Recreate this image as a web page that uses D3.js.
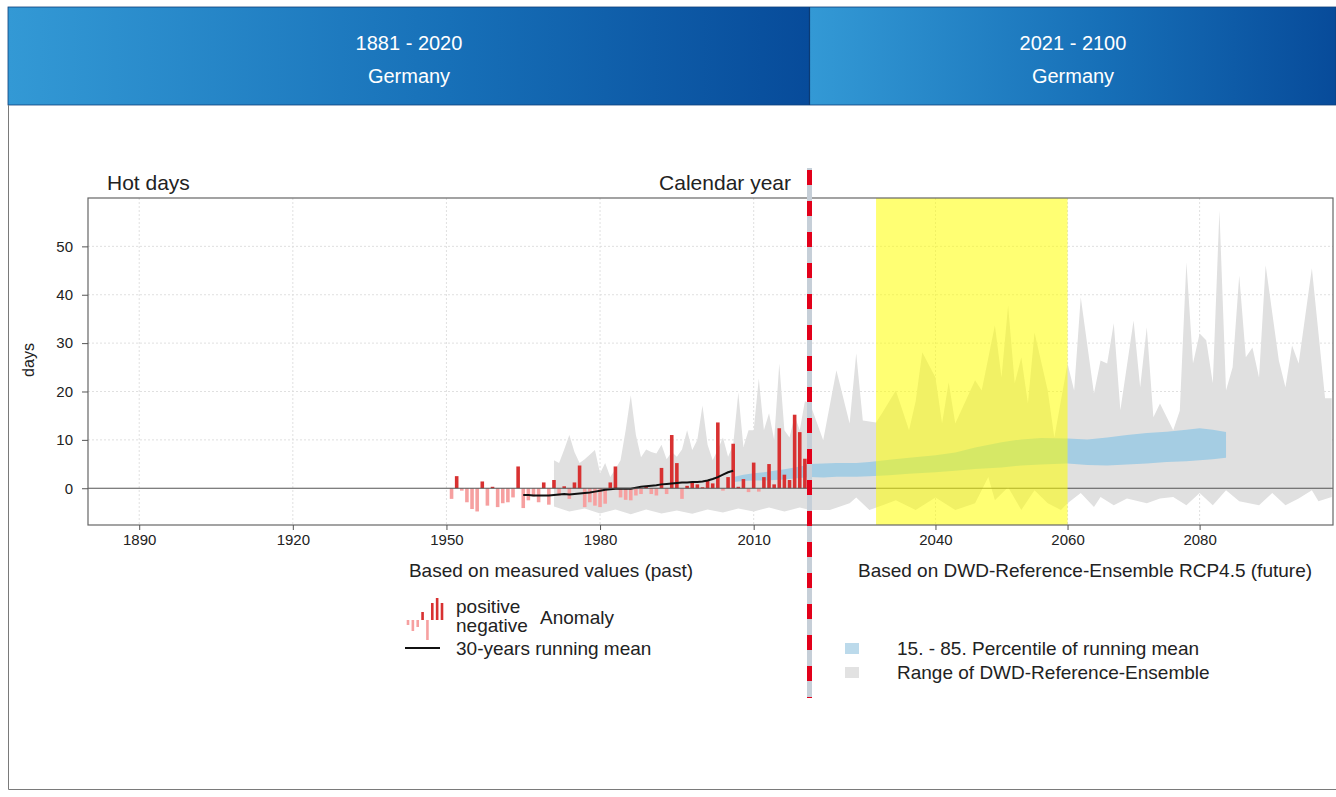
<!DOCTYPE html>
<html>
<head>
<meta charset="utf-8">
<script src="https://cdn.jsdelivr.net/npm/d3@7"></script>
<style>
  html, body { margin: 0; padding: 0; background: #fff; }
  svg { display: block; font-family: "Liberation Sans", Arial, Helvetica, sans-serif; }
</style>
</head>
<body>
<svg id="chart" width="1336" height="797"></svg>
<script>
// ---- Data: hot days (Tmax >= 30 °C), Germany, anomalies in days ----
const anomalyYears = d3.range(1951, 2021);
const anomalyValues = [
  -2.2, 2.5, -0.5, -2.9, -4.3, -4.8, 1.4, -3.6, 0.3, -3.9,
  -3.1, -2.9, -1.9, 4.5, -4.1, -2.5, -1.7, -2.9, 1.2, -3.4,
   1.7, -1.5, 0.4, -2.2, 1.2, 4.7, -3.9, -2.9, -3.6, -3.9,
  -3.2, 1.2, 4.5, -1.9, -2.4, -2.5, -1.5, -1.2, 0.3, -1.2,
  -1.5, 4.2, -1.2, 11.0, 5.2, -2.2, 0.5, 1.2, 0.8, 0.2,
   1.6, 1.0, 13.6, -0.5, 2.3, 9.2, 0.3, 1.9, -0.8, 5.3,
  -0.7, 2.3, 5.0, 0.8, 12.4, 2.8, 1.7, 15.2, 11.6, 6.1
];

// 30-year running mean of the observations
const meanYears = d3.range(1965, 2007);
const meanValues = [
  -1.4, -1.4, -1.5, -1.5, -1.5, -1.5, -1.4, -1.3, -1.2, -1.3,
  -1.2, -1.1, -1.0, -0.9, -0.7, -0.5, -0.3, -0.2, -0.1, -0.1,
  -0.1, -0.1, 0.1, 0.3, 0.4, 0.5, 0.6, 0.8, 0.9, 1.0,
   1.1, 1.2, 1.2, 1.3, 1.3, 1.4, 1.6, 1.9, 2.3, 2.8,
   3.3, 3.6
];

// 15th - 85th percentile of the ensemble running mean
const bandYears = [2006, 2008, 2010, 2012, 2014, 2016, 2018, 2020, 2021, 2023, 2025, 2028, 2030, 2033, 2036, 2040, 2043, 2046, 2050, 2053, 2056, 2060, 2063, 2066, 2069, 2072, 2075, 2078, 2080, 2082, 2084];
const bandLow  = [1.3, 1.5, 1.6, 1.6, 1.7, 1.8, 2.0, 2.2, 2.3, 2.2, 2.4, 2.4, 2.5, 2.7, 3.0, 3.3, 3.6, 4.0, 4.3, 4.7, 4.9, 5.1, 4.8, 4.7, 4.9, 5.1, 5.4, 5.6, 5.8, 6.0, 6.3];
const bandHigh = [2.3, 2.8, 3.1, 3.3, 3.6, 3.9, 4.3, 4.7, 5.0, 5.1, 5.2, 5.2, 5.4, 5.9, 6.3, 6.8, 7.4, 8.4, 9.5, 10.1, 10.4, 10.3, 10.1, 10.5, 11.0, 11.4, 11.7, 12.1, 12.4, 12.1, 11.6];

// Range of the DWD reference ensemble: upper envelope
const rangeHighYears = [1971, 1972, 1973, 1974, 1975, 1976, 1977, 1979, 1980, 1981, 1982, 1983, 1984, 1985, 1986, 1987, 1988, 1989, 1990, 1991, 1992, 1993, 1994, 1995, 1996, 1997, 1998, 1999, 2000, 2001, 2002, 2003, 2004, 2005, 2006, 2007, 2008, 2009, 2010, 2011, 2012, 2013, 2014, 2015, 2016, 2017, 2018, 2019, 2020,
  2021, 2023, 2025, 2027, 2028, 2029, 2031, 2032, 2034, 2036, 2037, 2038, 2040, 2041, 2042, 2043, 2046, 2047, 2049, 2050, 2051, 2052, 2053, 2054, 2055, 2057, 2058, 2060, 2061, 2062, 2064, 2065, 2066, 2067, 2068, 2070, 2071, 2072, 2073, 2074, 2076, 2077, 2078, 2079, 2080, 2081, 2082, 2083, 2084, 2085, 2086, 2087, 2088, 2089, 2090, 2092, 2093, 2094, 2095, 2097, 2099, 2100];
const rangeHighValues = [5.8, 5.2, 8.0, 11.0, 7.5, 5.2, 6.0, 7.9, 3.1, 5.2, 2.3, 4.0, 5.8, 12.0, 19.2, 11.0, 6.4, 8.0, 7.5, 7.2, 9.0, 6.0, 7.5, 6.5, 8.0, 12.0, 7.9, 10.0, 17.1, 9.0, 5.8, 8.0, 10.5, 6.5, 9.0, 19.8, 8.5, 12.0, 12.0, 22.7, 12.0, 15.5, 10.0, 25.8, 12.0, 10.5, 15.0, 12.0, 18.0,
  17.5, 9.9, 24.4, 13.4, 27.9, 14.0, 13.6, 15.7, 20.2, 12.0, 18.0, 28.1, 22.9, 13.4, 21.9, 13.4, 22.3, 20.2, 33.7, 22.9, 37.8, 21.7, 27.1, 17.5, 32.2, 20.2, 10.5, 25.8, 20.2, 39.5, 19.6, 26.4, 25.8, 34.1, 16.1, 34.7, 20.9, 33.3, 14.7, 17.5, 12.0, 16.0, 46.7, 25.8, 32.0, 30.6, 21.7, 57.4, 20.2, 25.0, 44.0, 27.1, 29.1, 22.9, 46.1, 26.4, 20.9, 29.5, 25.8, 45.5, 18.6, 18.6];

// Range of the DWD reference ensemble: lower envelope
const rangeLowYears = [1971, 1974, 1977, 1980, 1983, 1986, 1989, 1992, 1995, 1998, 2001, 2004, 2007, 2010, 2013, 2016, 2019, 2021,
  2024, 2027, 2028, 2030, 2032, 2034, 2037, 2040, 2043, 2046, 2048, 2049, 2051, 2053, 2055, 2057, 2059, 2060, 2062, 2064, 2065, 2067, 2069, 2072, 2074, 2076, 2078, 2080, 2082, 2084, 2086, 2089, 2091, 2093, 2095, 2097, 2098, 2100];
const rangeLowValues = [-3.8, -4.8, -4.2, -5.2, -4.4, -5.4, -4.4, -5.2, -4.6, -5.3, -4.4, -5.0, -4.2, -4.8, -4.0, -4.8, -4.0, -4.5,
  -4.5, -3.1, -1.9, -4.5, -3.5, -2.5, -4.5, -1.9, -4.5, -3.1, 2.3, -2.5, 0.2, -4.5, -0.4, -3.1, -4.5, -3.1, -1.0, -3.9, -1.8, -3.5, -2.1, -3.1, -2.1, -1.8, -3.5, -1.0, -3.5, -0.4, -2.7, -3.5, -1.0, -3.5, -2.1, -0.4, -2.7, -1.8];

const xTickValues = [1890, 1920, 1950, 1980, 2010, 2040, 2060, 2080];
const yTickValues = [0, 10, 20, 30, 40, 50];
const periodLabels = ["1881 - 2020", "2021 - 2100"];
const regionLabel = "Germany";
const highlightPeriod = [2031, 2060];
const splitYear = 2021;

// ---- Layout ----
const svg = d3.select("#chart");
const plot = { left: 88, right: 1333, top: 198, bottom: 525 };

// past and future panels share one axis but with different year widths
const x = d3.scaleLinear().domain([1880, splitYear, 2100.2]).range([plot.left, 810, plot.right]);
const y = d3.scaleLinear().domain([-7.6, 60]).range([plot.bottom, plot.top]);

const textColor = "#222";

// ---- Header ----
const defs = svg.append("defs");
const grad = defs.append("linearGradient").attr("id", "headGrad").attr("x1", "0%").attr("x2", "100%");
grad.append("stop").attr("offset", "0%").attr("stop-color", "#3399d5");
grad.append("stop").attr("offset", "55%").attr("stop-color", "#1770b8");
grad.append("stop").attr("offset", "100%").attr("stop-color", "#074b9a");

const headBoxes = [[8, 810], [810, 1336]];
headBoxes.forEach((b, i) => {
  svg.append("rect").attr("x", b[0]).attr("y", 7).attr("width", b[1] - b[0]).attr("height", 98)
    .attr("fill", "url(#headGrad)");
  const cx = (b[0] + b[1]) / 2;
  svg.append("text").attr("x", cx).attr("y", 43).attr("dy", "0.35em").attr("text-anchor", "middle")
    .attr("fill", "#fff").attr("font-size", 20).text(periodLabels[i]);
  svg.append("text").attr("x", cx).attr("y", 76).attr("dy", "0.35em").attr("text-anchor", "middle")
    .attr("fill", "#fff").attr("font-size", 20).text(regionLabel);
});
svg.append("line").attr("x1", 809.5).attr("x2", 809.5).attr("y1", 7).attr("y2", 105)
  .attr("stroke", "#0b3b74").attr("stroke-width", 1.2);
svg.append("rect").attr("x", 8).attr("y", 7).attr("width", 1328).attr("height", 98)
  .attr("fill", "none").attr("stroke", "#0d3f7a").attr("stroke-width", 0.8);

// outer frame
svg.append("path").attr("d", "M8.5,105 V789.5 H1336")
  .attr("fill", "none").attr("stroke", "#7a7a7a").attr("stroke-width", 1);

// ---- Grid ----
const grid = svg.append("g");
grid.selectAll(".gy").data(yTickValues.filter(d => d !== 0)).join("line")
  .attr("x1", plot.left).attr("x2", plot.right)
  .attr("y1", d => y(d)).attr("y2", d => y(d))
  .attr("stroke", "#dcdcdc").attr("stroke-width", 0.9).attr("stroke-dasharray", "2,2");
grid.selectAll(".gx").data(xTickValues).join("line")
  .attr("x1", d => x(d)).attr("x2", d => x(d))
  .attr("y1", plot.top).attr("y2", plot.bottom)
  .attr("stroke", "#dcdcdc").attr("stroke-width", 0.9).attr("stroke-dasharray", "2,2");

// ---- Ensemble range (grey) ----
const envPoints = rangeHighYears.map((yr, i) => [yr, rangeHighValues[i]])
  .concat(rangeLowYears.map((yr, i) => [yr, rangeLowValues[i]]).reverse());
svg.append("path")
  .attr("d", d3.line().x(d => x(d[0])).y(d => y(d[1]))(envPoints) + "Z")
  .attr("fill", "#e0e0e0");

// ---- Percentile band (blue) ----
const bandData = bandYears.map((yr, i) => ({ yr, lo: bandLow[i], hi: bandHigh[i] }));
svg.append("path")
  .attr("d", d3.area().x(d => x(d.yr)).y0(d => y(d.lo)).y1(d => y(d.hi))(bandData))
  .attr("fill", "#a5cde3");

// ---- Anomaly bars ----
const bw = (x(1952) - x(1951)) * 0.7;
svg.append("g").selectAll("rect").data(anomalyYears.map((yr, i) => ({ yr, v: anomalyValues[i] })))
  .join("rect")
  .attr("x", d => x(d.yr) - bw / 2)
  .attr("width", bw)
  .attr("y", d => y(Math.max(0, d.v)))
  .attr("height", d => Math.abs(y(d.v) - y(0)))
  .attr("fill", d => d.v >= 0 ? "#d83131" : "#f6a0a0");

// ---- Running mean ----
svg.append("path")
  .attr("d", d3.line().x((d, i) => x(meanYears[i])).y(d => y(d))(meanValues))
  .attr("fill", "none").attr("stroke", "#111").attr("stroke-width", 2);

// ---- Zero line ----
svg.append("line").attr("x1", plot.left).attr("x2", plot.right).attr("y1", y(0)).attr("y2", y(0))
  .attr("stroke", "#555").attr("stroke-width", 1.2);

// ---- Highlighted period ----
svg.append("rect")
  .attr("x", x(highlightPeriod[0])).attr("width", x(highlightPeriod[1]) - x(highlightPeriod[0]))
  .attr("y", plot.top).attr("height", plot.bottom - plot.top)
  .attr("fill", "#ffff00").attr("fill-opacity", 0.55);

// ---- Plot border ----
svg.append("rect").attr("x", plot.left).attr("y", plot.top)
  .attr("width", plot.right - plot.left).attr("height", plot.bottom - plot.top)
  .attr("fill", "none").attr("stroke", "#666").attr("stroke-width", 1.2);
svg.append("line").attr("x1", x(splitYear)).attr("x2", x(splitYear)).attr("y1", plot.top).attr("y2", plot.bottom)
  .attr("stroke", "#333").attr("stroke-width", 1.2);

// ---- Axes ----
const xAxis = svg.append("g").attr("transform", `translate(0,${plot.bottom})`)
  .call(d3.axisBottom(x).tickValues(xTickValues).tickFormat(d3.format("d")).tickSize(5).tickPadding(4));
xAxis.select(".domain").remove();
xAxis.selectAll("line").attr("stroke", "#555");
xAxis.selectAll("text").attr("font-size", 15).attr("fill", textColor)
  .attr("font-family", "'Liberation Sans', Arial, sans-serif");

const yAxis = svg.append("g").attr("transform", `translate(${plot.left},0)`)
  .call(d3.axisLeft(y).tickValues(yTickValues).tickSize(6).tickPadding(9));
yAxis.select(".domain").remove();
yAxis.selectAll("line").attr("stroke", "#555");
yAxis.selectAll("text").attr("font-size", 15).attr("fill", textColor)
  .attr("font-family", "'Liberation Sans', Arial, sans-serif");

// ---- Titles ----
svg.append("text").attr("x", 107).attr("y", 183).attr("dy", "0.35em")
  .attr("font-size", 21).attr("fill", textColor).text("Hot days");
svg.append("text").attr("x", 791).attr("y", 183).attr("dy", "0.35em").attr("text-anchor", "end")
  .attr("font-size", 21).attr("fill", textColor).text("Calendar year");
svg.append("text").attr("transform", "translate(28,360) rotate(-90)").attr("dy", "0.35em")
  .attr("text-anchor", "middle").attr("font-size", 16).attr("fill", textColor).text("days");
svg.append("text").attr("x", 551).attr("y", 570).attr("dy", "0.35em").attr("text-anchor", "middle")
  .attr("font-size", 19).attr("fill", textColor).text("Based on measured values (past)");
svg.append("text").attr("x", 1085).attr("y", 570).attr("dy", "0.35em").attr("text-anchor", "middle")
  .attr("font-size", 19).attr("fill", textColor).text("Based on DWD-Reference-Ensemble RCP4.5 (future)");

// ---- Split marker ----
svg.append("line").attr("x1", 809.5).attr("x2", 809.5).attr("y1", 168).attr("y2", 698)
  .attr("stroke", "#c6cfd8").attr("stroke-width", 5);
svg.append("line").attr("x1", 809.5).attr("x2", 809.5).attr("y1", 170).attr("y2", 698)
  .attr("stroke", "#e2001a").attr("stroke-width", 5).attr("stroke-dasharray", "15,16");

// ---- Legend (past) ----
const iconVals = [-5, -11, -7, 8, -20, 17, 22, 17];
const iconX = d3.scaleLinear().domain([0, iconVals.length - 1]).range([408, 442]);
const iconBase = 620;
svg.append("g").selectAll("rect").data(iconVals).join("rect")
  .attr("x", (d, i) => iconX(i) - 1.3).attr("width", 2.6)
  .attr("y", d => d > 0 ? iconBase - d : iconBase)
  .attr("height", d => Math.abs(d))
  .attr("fill", d => d > 0 ? "#d83131" : "#f6a0a0");
svg.append("text").attr("x", 456).attr("y", 606).attr("dy", "0.35em").attr("font-size", 19)
  .attr("fill", textColor).text("positive");
svg.append("text").attr("x", 456).attr("y", 625).attr("dy", "0.35em").attr("font-size", 19)
  .attr("fill", textColor).text("negative");
svg.append("text").attr("x", 540).attr("y", 617).attr("dy", "0.35em").attr("font-size", 19)
  .attr("fill", textColor).text("Anomaly");
svg.append("line").attr("x1", 405).attr("x2", 440).attr("y1", 648).attr("y2", 648)
  .attr("stroke", "#111").attr("stroke-width", 2);
svg.append("text").attr("x", 456).attr("y", 648).attr("dy", "0.35em").attr("font-size", 19)
  .attr("fill", textColor).text("30-years running mean");

// ---- Legend (future) ----
svg.append("rect").attr("x", 845).attr("y", 643).attr("width", 14).attr("height", 11).attr("fill", "#bcdaeb");
svg.append("text").attr("x", 897).attr("y", 648).attr("dy", "0.35em").attr("font-size", 19)
  .attr("fill", textColor).text("15. - 85. Percentile of running mean");
svg.append("rect").attr("x", 845).attr("y", 667).attr("width", 14).attr("height", 11).attr("fill", "#e2e2e2");
svg.append("text").attr("x", 897).attr("y", 672).attr("dy", "0.35em").attr("font-size", 19)
  .attr("fill", textColor).text("Range of DWD-Reference-Ensemble");
</script>
</body>
</html>
